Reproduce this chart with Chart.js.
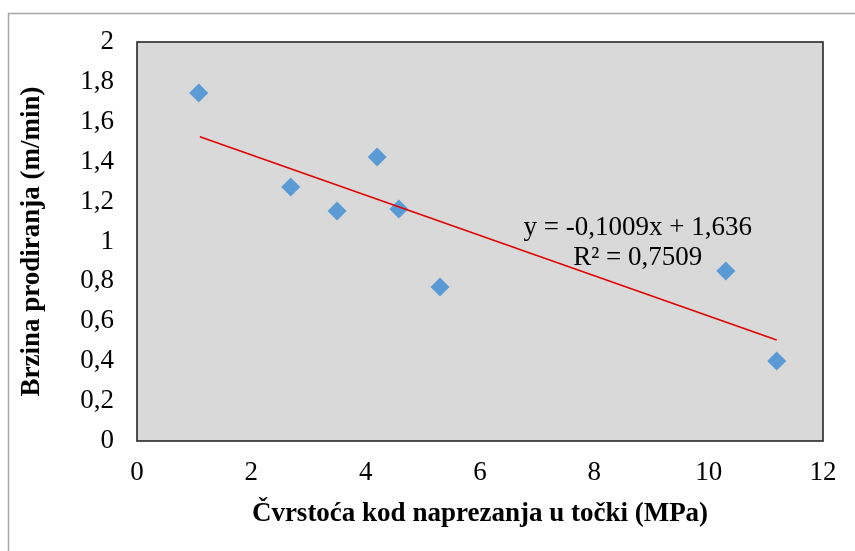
<!DOCTYPE html>
<html>
<head>
<meta charset="utf-8">
<script src="https://cdn.jsdelivr.net/npm/chart.js@4.4.1/dist/chart.umd.min.js"></script>
<style>
  html, body { margin: 0; padding: 0; background: #fff; }
  #wrap { width: 855px; height: 551px; position: relative; }
</style>
</head>
<body>
<div id="wrap"><canvas id="myChart" width="855" height="551"></canvas></div>
<script>
// values
const strength = [1.08, 2.69, 3.50, 4.20, 4.58, 5.30, 10.30, 11.19];
const speed = [1.744, 1.273, 1.153, 1.424, 1.163, 0.772, 0.852, 0.401];
const trendX = [1.10, 11.19];
const trendY = [1.525, 0.506];
const eqLines = ['y = -0,1009x + 1,636', 'R² = 0,7509'];
const xTitle = 'Čvrstoća kod naprezanja u točki (MPa)';
const yTitle = 'Brzina prodiranja (m/min)';

const serif = 'Liberation Serif, "Times New Roman", serif';
const fs = 27;

const pointsData = strength.map((x, i) => ({ x: x, y: speed[i] }));
const trendData = trendX.map((x, i) => ({ x: x, y: trendY[i] }));

const frame = {
  id: 'frame',
  beforeDraw(chart) {
    const c = chart.ctx, a = chart.chartArea;
    c.save();
    c.fillStyle = '#fff';
    c.fillRect(0, 0, chart.width, chart.height);
    // outer border
    c.strokeStyle = '#a6a6a6';
    c.lineWidth = 1.5;
    c.beginPath();
    c.moveTo(8.5, chart.height + 2);
    c.lineTo(8.5, 13.5);
    c.lineTo(chart.width + 2, 13.5);
    c.stroke();
    // plot area
    c.fillStyle = '#d9d9d9';
    c.fillRect(a.left, a.top, a.right - a.left, a.bottom - a.top);
    c.restore();
  },
  afterDatasetsDraw(chart) {
    const c = chart.ctx, a = chart.chartArea;
    c.save();
    c.strokeStyle = '#1a1a1a';
    c.lineWidth = 1.5;
    c.strokeRect(a.left, a.top, a.right - a.left, a.bottom - a.top);
    // trendline label
    const xs = chart.scales.x, ys = chart.scales.y;
    c.fillStyle = '#000';
    c.font = fs + 'px ' + serif;
    c.textAlign = 'center';
    c.textBaseline = 'middle';
    c.fillText(eqLines[0], xs.getPixelForValue(8.76), ys.getPixelForValue(1.068));
    c.fillText(eqLines[1], xs.getPixelForValue(8.76), ys.getPixelForValue(0.917));
    c.restore();
  }
};

const ctx = document.getElementById('myChart');

var chart = new Chart(ctx, {
  type: 'scatter',
  data: {
    datasets: [{
        label: 'trend',
        type: 'line',
        data: trendData,
        borderColor: '#e00000',
        borderWidth: 1.5,
        pointRadius: 0,
        fill: false,
        order: 0,
    }, {
        label: 'data',
        data: pointsData,
        pointStyle: 'rectRot',
        pointRadius: 9.5,
        backgroundColor: '#5b9bd5',
        borderColor: '#5b9bd5',
        borderWidth: 0,
        order: 1,
    }]
  },
  options: {
    responsive: false,
    animation: false,
    events: [],
    layout: { padding: { top: 42, right: 32, left: 0, bottom: 0 } },
    plugins: {
      legend: { display: false },
      tooltip: { enabled: false },
      title: { display: false }
    },
    scales: {
      x: {
        type: 'linear',
        min: 0, max: 12,
        ticks: { stepSize: 2, color: '#000', padding: 16, font: { family: serif, size: fs } },
        grid: { display: false, drawTicks: false },
        border: { display: false },
        title: { display: true, text: xTitle, color: '#000', padding: { top: 0, bottom: 21 }, font: { family: serif, size: fs, weight: 'bold' } },
        afterFit(s) { s.height = 110; }
      },
      y: {
        min: 0, max: 2,
        ticks: {
          stepSize: 0.2, color: '#000', padding: 23, font: { family: serif, size: fs },
          callback: (v) => String(Math.round(v * 10) / 10).replace('.', ',')
        },
        grid: { display: false, drawTicks: false },
        border: { display: false },
        title: { display: true, text: yTitle, color: '#000', padding: { top: 16, bottom: 0 }, font: { family: serif, size: fs, weight: 'bold' } },
        afterFit(s) { s.width = 137; }
      }
    }
  },
  plugins: [frame]
});
</script>
</body>
</html>
